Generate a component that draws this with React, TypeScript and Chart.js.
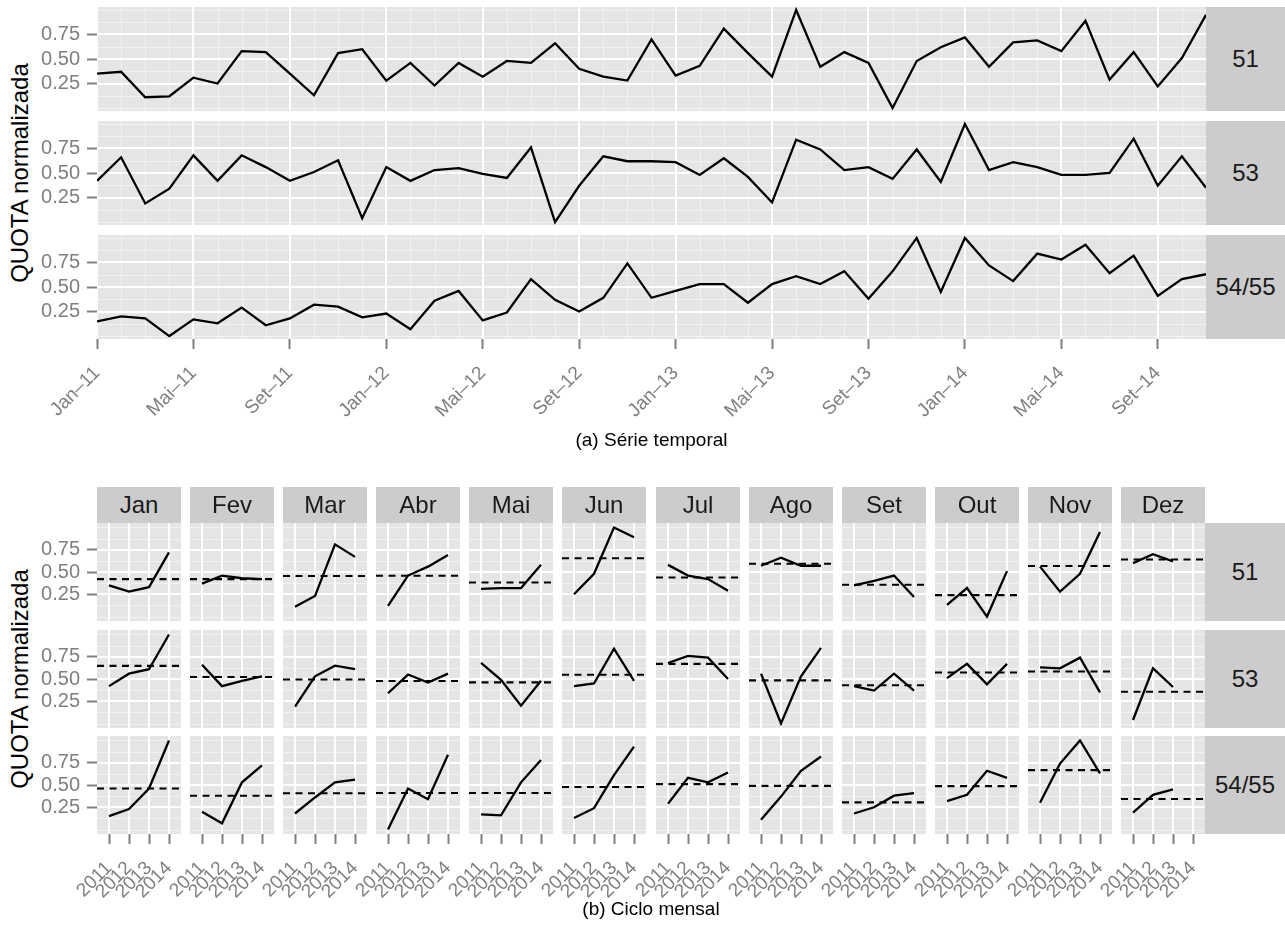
import React, { useEffect, useRef } from 'react';
import { Chart, registerables } from 'chart.js';

Chart.register(...registerables);

// ---------------- DATA ----------------
const groupLabels = ['51', '53', '54/55'];
const monthLabels = ['Jan', 'Fev', 'Mar', 'Abr', 'Mai', 'Jun', 'Jul', 'Ago', 'Set', 'Out', 'Nov', 'Dez'];
const yearLabels = ['2011', '2012', '2013', '2014'];
const timeTickLabels = ['Jan–11', 'Mai–11', 'Set–11', 'Jan–12', 'Mai–12', 'Set–12', 'Jan–13', 'Mai–13', 'Set–13', 'Jan–14', 'Mai–14', 'Set–14'];
const timeTickMonths = [0, 4, 8, 12, 16, 20, 24, 28, 32, 36, 40, 44];
const yTickValues = [0.25, 0.5, 0.75];
const yMinorValues = [0, 0.125, 0.375, 0.625, 0.875, 1.0];

// monthly normalized QUOTA, Jan-2011 .. Nov-2014
const quota51 = [0.35, 0.37, 0.11, 0.12, 0.31, 0.25, 0.58, 0.57, 0.35, 0.13, 0.56, 0.60, 0.28, 0.46, 0.23, 0.46, 0.32, 0.48, 0.46, 0.66, 0.40, 0.32, 0.28, 0.70, 0.33, 0.43, 0.81, 0.56, 0.32, 1.00, 0.42, 0.57, 0.46, 0.00, 0.48, 0.62, 0.72, 0.42, 0.67, 0.69, 0.58, 0.89, 0.29, 0.57, 0.22, 0.51, 0.95];
const quota53 = [0.42, 0.66, 0.19, 0.34, 0.68, 0.42, 0.68, 0.56, 0.42, 0.51, 0.63, 0.04, 0.56, 0.42, 0.53, 0.55, 0.49, 0.45, 0.76, 0.00, 0.37, 0.67, 0.62, 0.62, 0.61, 0.48, 0.65, 0.46, 0.20, 0.84, 0.74, 0.53, 0.56, 0.44, 0.74, 0.41, 1.00, 0.53, 0.61, 0.56, 0.48, 0.48, 0.50, 0.85, 0.37, 0.67, 0.35];
const quota5455 = [0.15, 0.20, 0.18, 0.00, 0.17, 0.13, 0.29, 0.11, 0.18, 0.32, 0.30, 0.19, 0.23, 0.07, 0.36, 0.46, 0.16, 0.24, 0.58, 0.37, 0.25, 0.39, 0.74, 0.39, 0.46, 0.53, 0.53, 0.34, 0.53, 0.61, 0.53, 0.66, 0.38, 0.66, 1.00, 0.45, 1.00, 0.72, 0.56, 0.84, 0.78, 0.93, 0.64, 0.82, 0.41, 0.58, 0.63];
const seriesByGroup = [quota51, quota53, quota5455];

const captionTop = '(a) Série temporal';
const captionBottom = '(b) Ciclo mensal';
const yTitle = 'QUOTA normalizada';

// ---------------- STYLE / LAYOUT ----------------
const FONT = '"Liberation Sans", Arimo, Arial, Helvetica, sans-serif';
const PANEL_BG = '#E5E5E5';
const GRID_MAJOR = '#FFFFFF';
const GRID_MINOR = '#F2F2F2';
const STRIP_BG = '#CCCCCC';
const STRIP_TEXT = '#1A1A1A';
const AXIS_TEXT = '#7F7F7F';
const TICK_COLOR = '#7F7F7F';
const TICK_FONT_SIZE = 20;
const XTICK_FONT_SIZE = 19;
const STRIP_FONT_SIZE = 24;
const TITLE_FONT_SIZE = 24;
const CAPTION_FONT_SIZE = 19;

const PLOT_LEFT = 97;
const TOP_RIGHT = 1206;
const TOP_PANEL_TOPS = [7, 121, 235];
const TOP_PANEL_H = 104;
const Y_AXIS_W = 60;

const BOT_PANEL_W = 84;
const BOT_PITCH = 93.09;
const BOT_ROW_TOPS = [523, 630, 736];
const BOT_PANEL_H = 98;
const BOT_STRIP_TOP = 487;
const BOT_STRIP_H = 36;
const BOT_RIGHT = 1205;
const PAGE_W = 1285;

type GridSpec = { xMinor: number[]; xMajor: number[]; yMinor: number[]; yMajor: number[] };

function makeGridPlugin(spec: GridSpec) {
  return {
    id: 'ggGrid',
    beforeDatasetsDraw(chart: any) {
      const { ctx, chartArea: a, scales } = chart;
      const xs = scales.x;
      const ys = scales.y;
      ctx.save();
      ctx.fillStyle = PANEL_BG;
      ctx.fillRect(a.left, a.top, a.right - a.left, a.bottom - a.top);
      ctx.beginPath();
      ctx.rect(a.left, a.top, a.right - a.left, a.bottom - a.top);
      ctx.clip();
      const snap = (p: number, w: number) => (w % 2 === 1 ? Math.round(p) + 0.5 : Math.round(p));
      const vline = (v: number, color: string, w: number) => {
        const p = snap(xs.getPixelForValue(v), w);
        ctx.strokeStyle = color;
        ctx.lineWidth = w;
        ctx.beginPath();
        ctx.moveTo(p, a.top);
        ctx.lineTo(p, a.bottom);
        ctx.stroke();
      };
      const hline = (v: number, color: string, w: number) => {
        const p = snap(ys.getPixelForValue(v), w);
        ctx.strokeStyle = color;
        ctx.lineWidth = w;
        ctx.beginPath();
        ctx.moveTo(a.left, p);
        ctx.lineTo(a.right, p);
        ctx.stroke();
      };
      spec.xMinor.forEach((v) => vline(v, GRID_MINOR, 1));
      spec.yMinor.forEach((v) => hline(v, GRID_MINOR, 1));
      spec.xMajor.forEach((v) => vline(v, GRID_MAJOR, 2));
      spec.yMajor.forEach((v) => hline(v, GRID_MAJOR, 2));
      ctx.restore();
    },
  };
}

type CfgOpts = {
  datasets: any[];
  xMin: number;
  xMax: number;
  xTicks: number[];
  xLabels: string[];
  showX: boolean;
  xAxisH: number;
  yMin: number;
  yMax: number;
  showY: boolean;
  grid: GridSpec;
};

function zeroPad(s: any) {
  s.paddingLeft = 0;
  s.paddingRight = 0;
  s.paddingTop = 0;
  s.paddingBottom = 0;
}

function buildConfig(o: CfgOpts): any {
  return {
    type: 'line',
    data: { datasets: o.datasets },
    options: {
      responsive: false,
      maintainAspectRatio: false,
      animation: false,
      events: [],
      layout: { padding: 0 },
      plugins: { legend: { display: false }, tooltip: { enabled: false }, title: { display: false } },
      scales: {
        x: {
          type: 'linear',
          min: o.xMin,
          max: o.xMax,
          display: true,
          afterBuildTicks: (s: any) => {
            s.ticks = o.xTicks.map((v) => ({ value: v }));
          },
          afterFit: (s: any) => {
            s.height = o.xAxisH;
            zeroPad(s);
          },
          ticks: {
            display: o.showX,
            autoSkip: false,
            maxRotation: 45,
            minRotation: 45,
            padding: 13,
            color: AXIS_TEXT,
            font: { family: FONT, size: XTICK_FONT_SIZE },
            callback: (_v: any, i: number) => o.xLabels[i],
          },
          grid: { display: o.showX, drawOnChartArea: false, drawTicks: true, tickLength: 10, tickWidth: 2, tickColor: TICK_COLOR },
          border: { display: false },
        },
        y: {
          type: 'linear',
          min: o.yMin,
          max: o.yMax,
          display: true,
          afterBuildTicks: (s: any) => {
            s.ticks = yTickValues.map((v) => ({ value: v }));
          },
          afterFit: (s: any) => {
            s.width = Y_AXIS_W;
            zeroPad(s);
          },
          ticks: {
            display: o.showY,
            padding: 7,
            color: AXIS_TEXT,
            font: { family: FONT, size: TICK_FONT_SIZE },
            callback: (v: any) => Number(v).toFixed(2),
          },
          grid: { display: o.showY, drawOnChartArea: false, drawTicks: true, tickLength: 10, tickWidth: 2, tickColor: TICK_COLOR },
          border: { display: false },
        },
      },
    },
    plugins: [makeGridPlugin(o.grid)],
  };
}

function ChartCanvas(props: { left: number; top: number; width: number; height: number; make: () => any }) {
  const ref = useRef<HTMLCanvasElement>(null);
  useEffect(() => {
    const chart = new Chart(ref.current as HTMLCanvasElement, props.make());
    return () => chart.destroy();
  }, []);
  return (
    <canvas
      ref={ref}
      width={props.width}
      height={props.height}
      style={{ position: 'absolute', left: props.left, top: props.top, width: props.width, height: props.height }}
    />
  );
}

const lineStyle = { borderColor: '#000000', borderWidth: 2.3, pointRadius: 0, tension: 0, fill: false };

function topChart(g: number) {
  const showX = g === 2;
  const xAxisH = showX ? 100 : 0;
  const panelW = TOP_RIGHT - PLOT_LEFT;
  const monthsIdx = seriesByGroup[g].map((_, k) => k);
  return {
    left: PLOT_LEFT - Y_AXIS_W,
    top: TOP_PANEL_TOPS[g],
    width: Y_AXIS_W + panelW,
    height: TOP_PANEL_H + xAxisH,
    make: () =>
      buildConfig({
        datasets: [{ ...lineStyle, data: seriesByGroup[g].map((v, k) => ({ x: k, y: v })) }],
        xMin: 0,
        xMax: seriesByGroup[g].length - 1,
        xTicks: timeTickMonths,
        xLabels: timeTickLabels,
        showX,
        xAxisH,
        yMin: -0.03,
        yMax: 1.03,
        showY: true,
        grid: { xMinor: monthsIdx, xMajor: timeTickMonths, yMinor: yMinorValues, yMajor: yTickValues },
      }),
  };
}

function monthValues(g: number, m: number) {
  const s = seriesByGroup[g];
  const pts: { x: number; y: number }[] = [];
  yearLabels.forEach((_, k) => {
    const idx = m + 12 * k;
    if (idx < s.length) pts.push({ x: k + 1, y: s[idx] });
  });
  return pts;
}

function panelLeft(c: number) {
  return Math.round(PLOT_LEFT + c * BOT_PITCH);
}

function bottomChart(g: number, m: number) {
  const showX = g === 2;
  const xAxisH = showX ? 80 : 0;
  const pts = monthValues(g, m);
  const mean = pts.reduce((acc, p) => acc + p.y, 0) / pts.length;
  const yearPos = yearLabels.map((_, k) => k + 1);
  return {
    left: panelLeft(m) - Y_AXIS_W,
    top: BOT_ROW_TOPS[g],
    width: Y_AXIS_W + BOT_PANEL_W,
    height: BOT_PANEL_H + xAxisH,
    make: () =>
      buildConfig({
        datasets: [
          { ...lineStyle, borderWidth: 2.1, borderDash: [7, 5.5], data: [{ x: 0.4, y: mean }, { x: 4.6, y: mean }] },
          { ...lineStyle, data: pts },
        ],
        xMin: 0.4,
        xMax: 4.6,
        xTicks: yearPos,
        xLabels: yearLabels,
        showX,
        xAxisH,
        yMin: -0.05,
        yMax: 1.05,
        showY: m === 0,
        grid: { xMinor: [], xMajor: yearPos, yMinor: yMinorValues, yMajor: yTickValues },
      }),
  };
}

const stripStyle = (left: number, top: number, width: number, height: number): React.CSSProperties => ({
  position: 'absolute',
  left,
  top,
  width,
  height,
  background: STRIP_BG,
  color: STRIP_TEXT,
  fontFamily: FONT,
  fontSize: STRIP_FONT_SIZE,
  display: 'flex',
  alignItems: 'center',
  justifyContent: 'center',
  whiteSpace: 'nowrap',
});

const centeredText = (cx: number, cy: number, size: number, rotate: boolean): React.CSSProperties => ({
  position: 'absolute',
  left: cx,
  top: cy,
  transform: `translate(-50%, -50%)${rotate ? ' rotate(-90deg)' : ''}`,
  fontFamily: FONT,
  fontSize: size,
  color: '#000000',
  whiteSpace: 'nowrap',
  lineHeight: 1,
});

export default function App() {
  const tops = groupLabels.map((_, g) => topChart(g));
  const bottoms: ReturnType<typeof bottomChart>[] = [];
  groupLabels.forEach((_, g) => monthLabels.forEach((__, m) => bottoms.push(bottomChart(g, m))));

  return (
    <div style={{ position: 'absolute', left: 0, top: 0, width: PAGE_W, height: 930, background: '#ffffff', overflow: 'hidden' }}>
      {tops.map((t, i) => (
        <ChartCanvas key={'t' + i} {...t} />
      ))}
      {bottoms.map((b, i) => (
        <ChartCanvas key={'b' + i} {...b} />
      ))}

      {groupLabels.map((lab, g) => (
        <div key={'ts' + g} style={stripStyle(TOP_RIGHT, TOP_PANEL_TOPS[g], PAGE_W - TOP_RIGHT, TOP_PANEL_H)}>
          {lab}
        </div>
      ))}
      {groupLabels.map((lab, g) => (
        <div key={'bs' + g} style={stripStyle(BOT_RIGHT, BOT_ROW_TOPS[g], PAGE_W - BOT_RIGHT, BOT_PANEL_H)}>
          {lab}
        </div>
      ))}
      {monthLabels.map((lab, m) => (
        <div key={'ms' + m} style={stripStyle(panelLeft(m), BOT_STRIP_TOP, BOT_PANEL_W, BOT_STRIP_H)}>
          {lab}
        </div>
      ))}

      <div style={centeredText(20, (TOP_PANEL_TOPS[0] + TOP_PANEL_TOPS[2] + TOP_PANEL_H) / 2, TITLE_FONT_SIZE, true)}>{yTitle}</div>
      <div style={centeredText(20, (BOT_ROW_TOPS[0] + BOT_ROW_TOPS[2] + BOT_PANEL_H) / 2, TITLE_FONT_SIZE, true)}>{yTitle}</div>
      <div style={centeredText((PLOT_LEFT + TOP_RIGHT) / 2, 439, CAPTION_FONT_SIZE, false)}>{captionTop}</div>
      <div style={centeredText((PLOT_LEFT + BOT_RIGHT) / 2, 908, CAPTION_FONT_SIZE, false)}>{captionBottom}</div>
    </div>
  );
}
